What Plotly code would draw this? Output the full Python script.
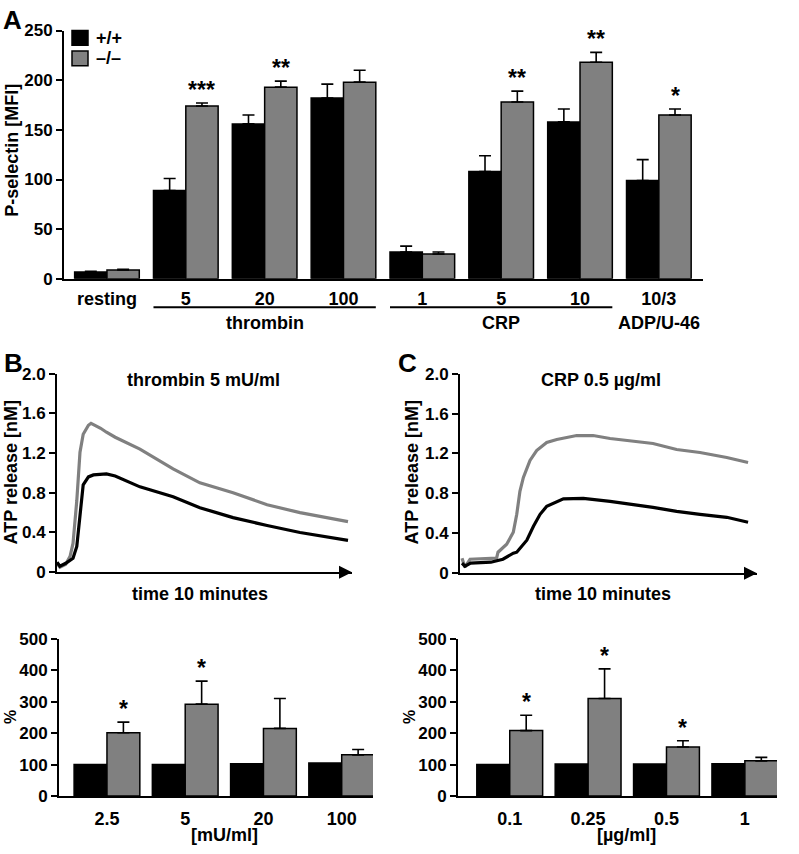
import plotly.graph_objects as go

# ---------------- data ----------------
# Panel A: P-selectin [MFI]
a_categories = ["resting", "5", "20", "100", "1", "5", "10", "10/3"]
a_wt = [7, 89, 156, 182, 27, 108, 158, 99]
a_wt_err = [0.5, 12, 9, 14, 6, 16, 13, 21]
a_ko = [9, 174, 193, 198, 25, 178, 218, 165]
a_ko_err = [0.5, 3, 6, 12, 2, 11, 10, 6]
a_sig = ["", "***", "**", "", "", "**", "**", "*"]
a_group_names = ["thrombin", "CRP", "ADP/U-46"]
a_group_first = [1, 4, 7]
a_group_last = [3, 6, 7]
series_names = ["+/+", "–/–"]

# Panel B top: ATP release, thrombin 5 mU/ml
b_time_ko = [0.00, 0.10, 0.30, 0.45, 0.55, 0.68, 0.79, 0.90, 1.08, 1.17, 1.50, 1.70,
             2.00, 2.85, 3.99, 4.91, 6.05, 7.22, 8.35, 10.0]
b_atp_ko = [0.09, 0.05, 0.08, 0.16, 0.29, 0.72, 1.21, 1.39, 1.48, 1.50, 1.45, 1.41,
            1.36, 1.24, 1.04, 0.90, 0.80, 0.68, 0.60, 0.51]
b_time_wt = [0.00, 0.10, 0.30, 0.55, 0.68, 0.79, 0.90, 1.08, 1.25, 1.70, 2.00, 2.85,
             3.99, 4.91, 6.05, 7.22, 8.35, 10.0]
b_atp_wt = [0.10, 0.06, 0.09, 0.14, 0.26, 0.58, 0.88, 0.96, 0.98, 0.99, 0.97, 0.86,
            0.76, 0.65, 0.55, 0.47, 0.40, 0.32]

# Panel C top: ATP release, CRP 0.5 ug/ml
c_time_ko = [0.00, 0.10, 0.28, 1.20, 1.25, 1.55, 1.78, 1.90, 2.01, 2.13, 2.36, 2.59,
             2.94, 3.29, 3.98, 4.55, 5.14, 6.63, 7.45, 8.26, 9.19, 9.93]
c_atp_ko = [0.15, 0.06, 0.14, 0.15, 0.21, 0.29, 0.41, 0.59, 0.82, 0.96, 1.13, 1.23,
            1.31, 1.34, 1.38, 1.38, 1.35, 1.30, 1.24, 1.21, 1.16, 1.11]
c_time_wt = [0.00, 0.10, 0.30, 1.00, 1.42, 1.78, 1.90, 2.25, 2.48, 2.71, 2.94, 3.17,
             3.52, 4.21, 5.14, 6.63, 7.45, 8.26, 9.19, 9.93]
c_atp_wt = [0.10, 0.07, 0.10, 0.11, 0.14, 0.20, 0.21, 0.33, 0.47, 0.59, 0.67, 0.70,
            0.745, 0.75, 0.72, 0.66, 0.62, 0.59, 0.56, 0.51]

# Panel B bottom: % (thrombin)
bb_categories = ["2.5", "5", "20", "100"]
bb_wt = [100, 100, 103, 105]
bb_ko = [201, 292, 215, 131]
bb_ko_err = [34, 73, 95, 17]
bb_sig = ["*", "*", "", ""]

# Panel C bottom: % (CRP)
cb_categories = ["0.1", "0.25", "0.5", "1"]
cb_wt = [100, 102, 102, 103]
cb_ko = [208, 310, 156, 112]
cb_ko_err = [49, 94, 20, 11]
cb_sig = ["*", "*", "*", ""]

# ---------------- layout helpers ----------------
W, H = 799, 854
FONT = "Liberation Sans, Arial, Helvetica, sans-serif"
GRAY = "#808080"
TXT = 18


def px(x):
    return x / W


def py(y):
    return 1 - y / H


def bfont(size):
    return dict(size=size, family=FONT, color="black", weight="bold")


fig = go.Figure()
annotations = []
shapes = []


def add_bars(cats, wt, ko, ko_err, wt_err, sig, xa, ya, w):
    xs = list(range(len(cats)))
    fig.add_trace(go.Bar(
        x=xs, y=wt, width=w, offset=-w, name=series_names[0],
        marker=dict(color="black", line=dict(color="black", width=1.5)),
        error_y=dict(type="data", symmetric=False, array=wt_err if wt_err else None,
                     arrayminus=[0] * len(xs), color="black", thickness=1.6, width=6,
                     visible=bool(wt_err)),
        xaxis=xa, yaxis=ya, showlegend=False))
    fig.add_trace(go.Bar(
        x=xs, y=ko, width=w, offset=0, name=series_names[1],
        marker=dict(color=GRAY, line=dict(color="black", width=1.5)),
        error_y=dict(type="data", symmetric=False, array=ko_err,
                     arrayminus=[0] * len(xs), color="black", thickness=1.6, width=6),
        xaxis=xa, yaxis=ya, showlegend=False))
    for i, s in enumerate(sig):
        if s:
            annotations.append(dict(
                x=i + w / 2, y=ko[i] + ko_err[i], xref=xa, yref=ya,
                text=s, showarrow=False, yanchor="bottom", yshift=-2,
                font=bfont(23)))


add_bars(a_categories, a_wt, a_ko, a_ko_err, a_wt_err, a_sig, "x", "y", 0.41)
add_bars(bb_categories, bb_wt, bb_ko, bb_ko_err, None, bb_sig, "x4", "y4", 0.42)
add_bars(cb_categories, cb_wt, cb_ko, cb_ko_err, None, cb_sig, "x5", "y5", 0.42)

# ATP traces
for t, v, col, xa, ya, nm in [
    (b_time_ko, b_atp_ko, GRAY, "x2", "y2", series_names[1]),
    (b_time_wt, b_atp_wt, "black", "x2", "y2", series_names[0]),
    (c_time_ko, c_atp_ko, GRAY, "x3", "y3", series_names[1]),
    (c_time_wt, c_atp_wt, "black", "x3", "y3", series_names[0]),
]:
    fig.add_trace(go.Scatter(x=t, y=v, mode="lines", line=dict(color=col, width=3.2),
                             xaxis=xa, yaxis=ya, name=nm, showlegend=False,
                             cliponaxis=False))

tickfont = bfont(17)

yax_common = dict(showline=True, linewidth=2, linecolor="black", ticks="outside",
                  ticklen=6, tickwidth=2, tickcolor="black", tickfont=tickfont,
                  showgrid=False, zeroline=False, fixedrange=True)
xax_common = dict(showline=True, linewidth=2, linecolor="black", ticks="",
                  tickfont=bfont(TXT), showgrid=False, zeroline=False, fixedrange=True)
atp_ticks = dict(tickmode="array", tickvals=[0, 0.4, 0.8, 1.2, 1.6, 2.0],
                 ticktext=["0", "0.4", "0.8", "1.2", "1.6", "2.0"], range=[0, 2.0])

fig.update_layout(
    width=W, height=H, margin=dict(l=0, r=0, t=0, b=0),
    paper_bgcolor="white", plot_bgcolor="white",
    font=dict(family=FONT, color="black", size=16, weight="bold"),
    barmode="overlay", showlegend=False,
    xaxis=dict(domain=[px(64), px(703)], range=[-0.545, 7.56], tickmode="array",
               tickvals=list(range(len(a_categories))), ticktext=a_categories,
               ticklabelstandoff=3, anchor="y", **xax_common),
    yaxis=dict(domain=[py(276), py(22)], range=[0, 250], dtick=50, anchor="x",
               **yax_common),
    xaxis2=dict(domain=[px(57), px(352)], range=[0, 10.137], showticklabels=False,
                anchor="y2", **xax_common),
    yaxis2=dict(domain=[py(576), py(373)], anchor="x2", **atp_ticks, **yax_common),
    xaxis3=dict(domain=[px(460), px(757)], range=[-0.07, 10.24], showticklabels=False,
                anchor="y3", **xax_common),
    yaxis3=dict(domain=[py(577), py(373)], anchor="x3", **atp_ticks, **yax_common),
    xaxis4=dict(domain=[px(59), px(373)], range=[-0.613, 3.40], tickmode="array",
                tickvals=list(range(len(bb_categories))), ticktext=bb_categories,
                ticklabelstandoff=5, anchor="y4", **xax_common),
    yaxis4=dict(domain=[py(805), py(644)], range=[0, 500], dtick=100, anchor="x4",
                **yax_common),
    xaxis5=dict(domain=[px(458), px(777)], range=[-0.66, 3.41], tickmode="array",
                tickvals=list(range(len(cb_categories))), ticktext=cb_categories,
                ticklabelstandoff=5, anchor="y5", **xax_common),
    yaxis5=dict(domain=[py(805), py(644)], range=[0, 500], dtick=100, anchor="x5",
                **yax_common),
)

# legend (panel A)
for i, (nm, col) in enumerate(zip(series_names, ["black", GRAY])):
    y0 = 22 + i * 21
    shapes.append(dict(type="rect", xref="paper", yref="paper", x0=px(72), x1=px(88),
                       y0=py(y0 + 15), y1=py(y0), fillcolor=col,
                       line=dict(color="black", width=1.5)))
    annotations.append(dict(x=px(94), y=py(y0 + 7.5), xref="paper", yref="paper",
                            text=nm, showarrow=False, xanchor="left", yanchor="middle",
                            font=bfont(TXT)))

# group brackets under panel A
for name, first, last in zip(a_group_names, a_group_first, a_group_last):
    if last > first:
        shapes.append(dict(type="line", xref="x", yref="paper", x0=first - 0.41,
                           x1=last + 0.41, y0=py(305), y1=py(305),
                           line=dict(color="black", width=2)))
    annotations.append(dict(x=(first + last) / 2, y=py(321), xref="x", yref="paper",
                            text=name, showarrow=False, yanchor="middle",
                            font=bfont(TXT)))

# arrows at the end of ATP time axes
for xa, ya, xend in [("x2", "y2", 10.137), ("x3", "y3", 10.24)]:
    annotations.append(dict(x=xend, y=0, xref=xa, yref=ya, ax=-14, ay=0,
                            axref="pixel", ayref="pixel", text="", showarrow=True,
                            arrowhead=2, arrowsize=1.3, arrowwidth=2, arrowcolor="black",
                            standoff=0))


def label(x, y, text, size=TXT, angle=0):
    annotations.append(dict(x=px(x), y=py(y), xref="paper", yref="paper", text=text,
                            showarrow=False, xanchor="center", yanchor="middle",
                            textangle=angle, font=bfont(size)))


label(12, 11, "A", 26)
label(13, 362, "B", 26)
label(408, 362, "C", 26)
label(12, 145, "P-selectin [MFI]", TXT, -90)
label(11, 474, "ATP release [nM]", TXT, -90)
label(412, 474, "ATP release [nM]", TXT, -90)
label(11, 724, "%", 16, -90)
label(410, 724, "%", 16, -90)
label(204, 379, "thrombin 5 mU/ml", TXT)
label(601, 379, "CRP 0.5 µg/ml", TXT)
label(200, 598, "time 10 minutes", TXT)
label(603, 598, "time 10 minutes", TXT)
label(224, 845, "[mU/ml]", TXT)
label(626, 845, "[µg/ml]", TXT)

fig.update_layout(annotations=annotations, shapes=shapes)
fig.write_html("out.html",
               config={"displayModeBar": False, "staticPlot": True},
               post_script="document.body.style.margin='0px';"
                           "document.body.style.overflow='hidden';")
